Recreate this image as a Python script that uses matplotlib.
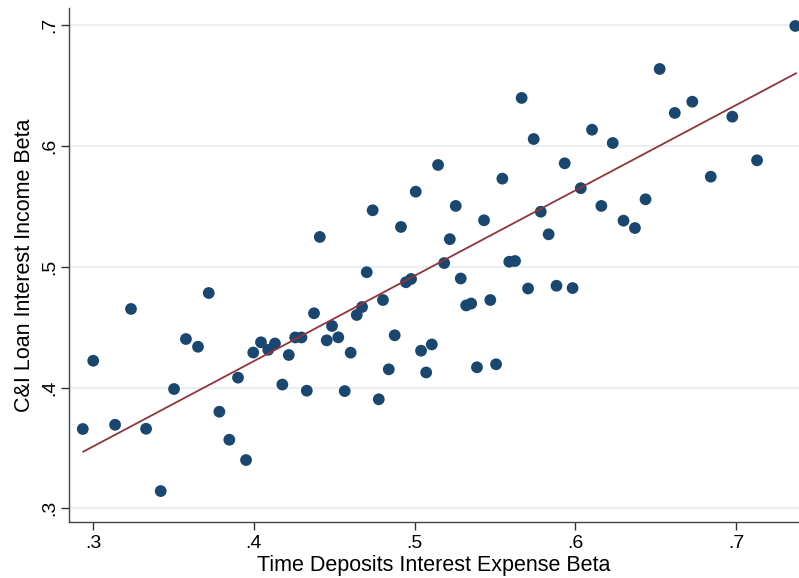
import numpy as np
import matplotlib
matplotlib.use('Agg')
import matplotlib.pyplot as plt
from matplotlib.ticker import FuncFormatter

# Time deposits interest expense beta (x) vs C&I loan interest income beta (y)
td_beta = [0.2935, 0.3000, 0.3136, 0.3235, 0.3329, 0.3420, 0.3503, 0.3577, 0.3652, 0.3719,
           0.3785, 0.3847, 0.3901, 0.3951, 0.3996, 0.4044, 0.4089, 0.4131, 0.4177, 0.4217,
           0.4257, 0.4296, 0.4329, 0.4374, 0.4410, 0.4453, 0.4486, 0.4525, 0.4565, 0.4602,
           0.4640, 0.4673, 0.4702, 0.4739, 0.4777, 0.4803, 0.4839, 0.4876, 0.4915, 0.4946,
           0.4978, 0.5040, 0.5072, 0.5107, 0.5146, 0.5184, 0.5219, 0.5256, 0.5287, 0.5321,
           0.5352, 0.5388, 0.5432, 0.5471, 0.5507, 0.5546, 0.5589, 0.5625, 0.5666, 0.5706,
           0.5741, 0.5785, 0.5834, 0.5883, 0.5934, 0.5983, 0.6034, 0.6104, 0.6162, 0.6233,
           0.6300, 0.6371, 0.6437, 0.6525, 0.6619, 0.6728, 0.6843, 0.6977, 0.7131, 0.7369,
           0.5007]
ci_beta = [0.3657, 0.4222, 0.3692, 0.4651, 0.3659, 0.3143, 0.3988, 0.4402, 0.4338, 0.4783,
           0.3800, 0.3568, 0.4082, 0.3400, 0.4290, 0.4375, 0.4313, 0.4365, 0.4025, 0.4270,
           0.4415, 0.4415, 0.3974, 0.4615, 0.5247, 0.4391, 0.4510, 0.4416, 0.3971, 0.4289,
           0.4601, 0.4667, 0.4955, 0.5468, 0.3903, 0.4725, 0.4151, 0.4433, 0.5330, 0.4872,
           0.4899, 0.4305, 0.4125, 0.4357, 0.5843, 0.5031, 0.5229, 0.5504, 0.4903, 0.4680,
           0.4696, 0.4168, 0.5385, 0.4725, 0.4193, 0.5730, 0.5042, 0.5048, 0.6398, 0.4820,
           0.6058, 0.5456, 0.5269, 0.4843, 0.5857, 0.4824, 0.5651, 0.6135, 0.5504, 0.6025,
           0.5382, 0.5321, 0.5559, 0.6638, 0.6274, 0.6367, 0.5746, 0.6243, 0.5882, 0.6994,
           0.5622]

# linear fit line as shown (fit on underlying data)
fit_x = [0.2938, 0.7373]
fit_y = [0.3469, 0.6602]

xticks = [0.3, 0.4, 0.5, 0.6, 0.7]
yticks = [0.3, 0.4, 0.5, 0.6, 0.7]

plt.rcParams['font.family'] = ['Liberation Sans', 'DejaVu Sans']

fig = plt.figure(figsize=(7.99, 5.78), dpi=100)
ax = fig.add_axes([0.0867, 0.0969, 0.9133, 0.8893])

ax.scatter(td_beta, ci_beta, s=72, color='#1a476f', edgecolors='none', zorder=3)
ax.plot(fit_x, fit_y, color='#90353b', lw=1.3, zorder=4)

ax.set_xlim(0.2851, 0.7392)
ax.set_ylim(0.2887, 0.7143)
ax.set_xticks(xticks)
ax.set_yticks(yticks)
fmt = FuncFormatter(lambda v, p: ('%.1f' % v).lstrip('0'))
ax.xaxis.set_major_formatter(fmt)
ax.yaxis.set_major_formatter(fmt)

ax.grid(axis='y', color='#eaf0f2', lw=1.5, zorder=0)
ax.set_axisbelow(True)

for s in ['top', 'right']:
    ax.spines[s].set_visible(False)
for s in ['left', 'bottom']:
    ax.spines[s].set_color('#444444')
    ax.spines[s].set_linewidth(1.0)

ax.tick_params(direction='out', length=5.8, width=1.0, color='#333333', labelsize=14)
ax.tick_params(axis='x', pad=3.8)
ax.tick_params(axis='y', pad=2.4)
plt.setp(ax.get_yticklabels(), rotation=90, va='center')

ax.set_xlabel('Time Deposits Interest Expense Beta', fontsize=15.5, labelpad=2)
ax.set_ylabel('C&I Loan Interest Income Beta', fontsize=15.5, labelpad=4.5)

fig.savefig('out.png', dpi=100)
